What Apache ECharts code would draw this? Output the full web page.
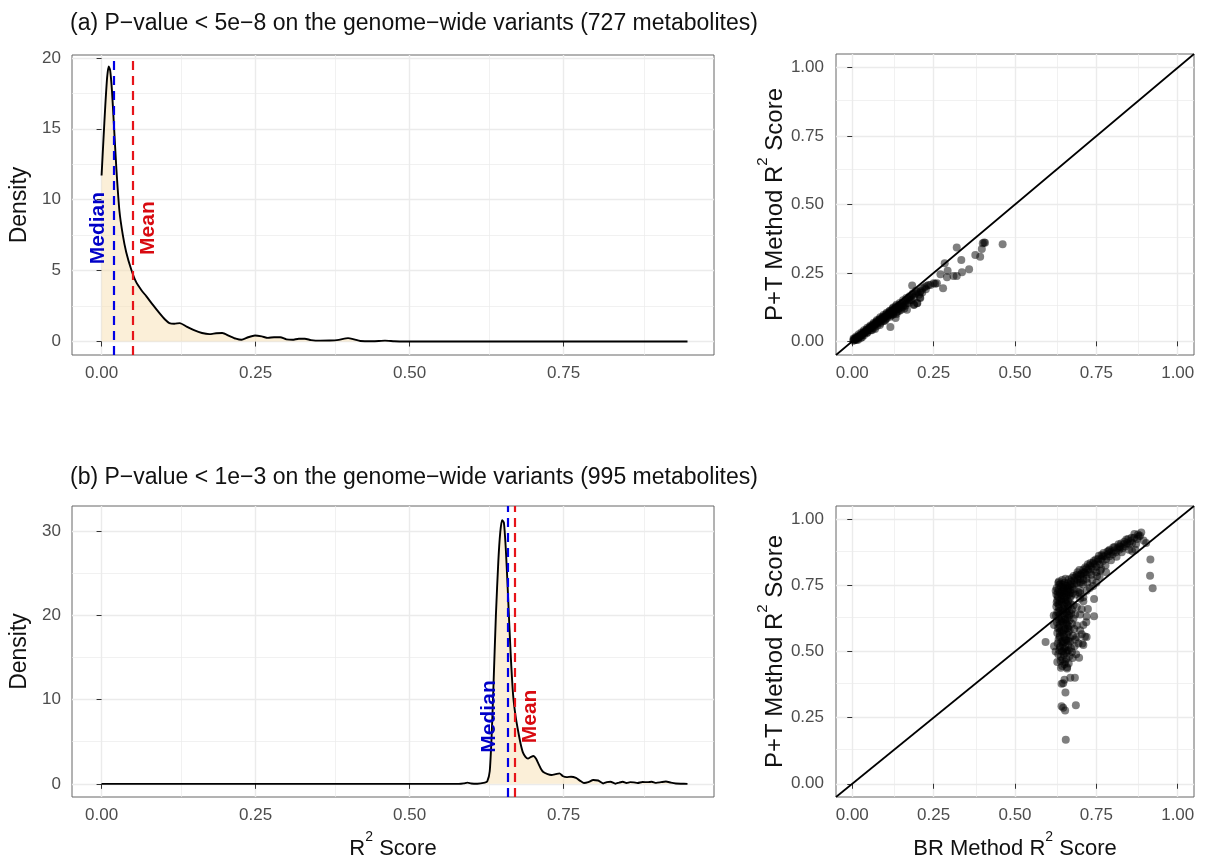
<!DOCTYPE html>
<html><head><meta charset="utf-8">
<script src="https://cdn.jsdelivr.net/npm/echarts@6/dist/echarts.min.js"></script>
<style>html,body{margin:0;padding:0;background:#fff}#c{width:1205px;height:861px}</style>
</head><body><div id="c"></div>
<script>
// ---------------- DATA ----------------
const titleA = '(a) P\u2212value < 5e\u22128 on the genome\u2212wide variants (727 metabolites)';
const titleB = '(b) P\u2212value < 1e\u22123 on the genome\u2212wide variants (995 metabolites)';

// Density curve of R2 scores, panel (a): [R2, density]
const densityA = [
 [0.000,11.7],[0.003,14.2],[0.006,16.6],[0.009,18.6],[0.0115,19.4],[0.014,19.1],[0.017,17.6],
 [0.020,15.3],[0.024,12.2],[0.029,9.2],[0.0345,7.5],[0.040,6.3],[0.048,5.1],[0.056,4.2],
 [0.065,3.6],[0.0725,3.2],[0.083,2.6],[0.094,2.0],[0.103,1.55],[0.110,1.3],[0.118,1.25],
 [0.127,1.3],[0.138,1.05],[0.150,0.8],[0.163,0.6],[0.175,0.52],[0.186,0.58],[0.196,0.6],
 [0.207,0.4],[0.218,0.2],[0.227,0.12],[0.238,0.3],[0.249,0.42],[0.260,0.36],[0.270,0.26],
 [0.280,0.3],[0.290,0.3],[0.300,0.15],[0.310,0.12],[0.320,0.2],[0.330,0.2],[0.340,0.1],
 [0.355,0.06],[0.370,0.07],[0.385,0.12],[0.400,0.24],[0.410,0.15],[0.420,0.04],[0.440,0.02],
 [0.460,0.06],[0.475,0.02],[0.490,0.0],[0.600,0.0],[0.800,0.0],[0.951,0.0]
];
// Density curve of R2 scores, panel (b)
const densityB = [
 [0.000,0.0],[0.580,0.0],[0.588,0.06],[0.594,0.15],[0.600,0.05],[0.610,0.02],[0.622,0.15],
 [0.626,0.3],[0.630,1.5],[0.633,5.5],[0.636,11.5],[0.640,20.0],[0.644,26.5],[0.647,29.8],
 [0.650,31.3],[0.653,31.0],[0.656,28.0],[0.659,23.5],[0.662,18.5],[0.665,14.0],[0.668,10.5],
 [0.672,8.0],[0.676,6.3],[0.680,4.8],[0.684,3.7],[0.688,3.2],[0.692,3.0],[0.697,3.2],
 [0.701,3.3],[0.705,3.0],[0.709,2.4],[0.713,1.8],[0.717,1.4],[0.724,1.15],[0.730,1.05],
 [0.737,1.15],[0.743,1.25],[0.749,0.9],[0.755,0.8],[0.762,0.85],[0.770,0.7],[0.777,0.35],
 [0.783,0.1],[0.790,0.2],[0.798,0.45],[0.806,0.4],[0.814,0.05],[0.820,0.2],[0.826,0.25],
 [0.834,0.02],[0.840,0.15],[0.846,0.25],[0.852,0.1],[0.858,0.2],[0.864,0.18],[0.870,0.1],
 [0.878,0.22],[0.886,0.2],[0.893,0.25],[0.900,0.12],[0.908,0.2],[0.916,0.28],[0.924,0.15],
 [0.932,0.05],[0.940,0.02],[0.951,0.0]
];
const statsA = { median: 0.022, mean: 0.050 };
const statsB = { median: 0.657, mean: 0.670 };
const statLabelY = 8;

// Scatter (a): [BR R2, P+T R2]
const scatterA = [
 [0.003,0.002],[0.006,0.004],[0.008,0.008],[0.010,0.006],[0.012,0.010],[0.005,0.008],[0.015,0.012],
 [0.018,0.014],[0.020,0.018],[0.022,0.016],[0.014,0.006],[0.025,0.020],[0.028,0.024],[0.030,0.022],
 [0.032,0.028],[0.035,0.030],[0.038,0.032],[0.040,0.036],[0.042,0.034],[0.045,0.040],[0.048,0.042],
 [0.050,0.045],[0.052,0.040],[0.055,0.050],[0.058,0.052],[0.060,0.055],[0.062,0.050],[0.065,0.060],
 [0.068,0.058],[0.070,0.065],[0.072,0.062],[0.075,0.070],[0.078,0.068],[0.080,0.075],[0.082,0.070],
 [0.085,0.078],[0.088,0.080],[0.090,0.072],[0.092,0.085],[0.095,0.082],[0.098,0.090],[0.100,0.088],
 [0.102,0.080],[0.105,0.095],[0.108,0.092],[0.110,0.100],[0.112,0.095],[0.115,0.105],[0.118,0.100],
 [0.120,0.110],[0.122,0.105],[0.125,0.115],[0.128,0.110],[0.130,0.120],[0.133,0.115],[0.135,0.105],
 [0.138,0.125],[0.140,0.118],[0.143,0.130],[0.145,0.122],[0.148,0.135],[0.150,0.128],[0.155,0.140],
 [0.158,0.132],[0.160,0.145],[0.165,0.150],[0.168,0.140],[0.170,0.155],[0.175,0.160],[0.178,0.150],
 [0.180,0.165],[0.185,0.170],[0.190,0.160],[0.195,0.175],[0.200,0.180],[0.205,0.170],[0.210,0.185],
 [0.215,0.178],[0.208,0.160],[0.200,0.140],[0.190,0.135],[0.168,0.115],[0.163,0.130],[0.133,0.085],
 [0.117,0.052],[0.070,0.045],[0.085,0.060],[0.100,0.075],[0.060,0.040],[0.045,0.030],[0.030,0.015],
 [0.120,0.095],[0.125,0.100],[0.140,0.110],[0.145,0.112],[0.155,0.125],[0.160,0.120],[0.184,0.204],
 [0.216,0.194],[0.209,0.179],[0.209,0.158],[0.199,0.139],[0.189,0.133],[0.240,0.206],[0.250,0.212],
 [0.260,0.212],[0.255,0.210],[0.271,0.245],[0.279,0.194],[0.284,0.285],[0.293,0.258],[0.291,0.234],
 [0.311,0.239],[0.321,0.239],[0.321,0.343],[0.335,0.297],[0.337,0.252],[0.359,0.263],[0.378,0.315],
 [0.393,0.309],[0.398,0.337],[0.401,0.358],[0.405,0.361],[0.408,0.360],[0.462,0.355],
 [0.010,0.012],[0.016,0.016],[0.024,0.022],[0.034,0.033],[0.044,0.043],[0.054,0.053],[0.064,0.062],
 [0.074,0.072],[0.084,0.082],[0.094,0.090],[0.104,0.100],[0.114,0.110],[0.124,0.120],[0.134,0.128],
 [0.004,0.010],[0.012,0.018],[0.020,0.026],[0.028,0.032],[0.036,0.040],[0.046,0.050],[0.056,0.058],
 [0.066,0.068],[0.076,0.078],[0.086,0.088],[0.096,0.096],[0.106,0.104],[0.116,0.112],[0.126,0.124],
 [0.136,0.134],[0.146,0.140],[0.156,0.150],[0.166,0.158],[0.176,0.165],[0.186,0.175],[0.196,0.185],
 [0.018,0.006],[0.026,0.012],[0.036,0.022],[0.046,0.032],[0.056,0.040],[0.066,0.048],[0.076,0.056],
 [0.086,0.066],[0.096,0.074],[0.106,0.084],[0.116,0.090],[0.126,0.098],[0.136,0.100],[0.150,0.115],
 [0.175,0.140],[0.182,0.150],[0.222,0.198],[0.228,0.202],[0.234,0.206],[0.226,0.190]
];

// Scatter (b): [BR R2, P+T R2]
const scatterB = [
 [0.635,0.765],[0.645,0.770],[0.655,0.775],[0.665,0.772],[0.675,0.778],[0.685,0.780],[0.695,0.785],
 [0.640,0.755],[0.652,0.760],[0.662,0.758],[0.672,0.765],[0.682,0.768],[0.692,0.772],[0.702,0.790],
 [0.628,0.740],[0.634,0.735],[0.641,0.745],[0.648,0.738],[0.655,0.748],[0.662,0.742],[0.669,0.750],
 [0.676,0.745],[0.683,0.752],[0.690,0.758],[0.698,0.760],[0.632,0.725],[0.645,0.728],[0.658,0.730],
 [0.670,0.732],[0.680,0.735],[0.625,0.730],
 [0.627,0.715],[0.633,0.705],[0.639,0.718],[0.646,0.710],[0.652,0.720],[0.659,0.705],[0.665,0.715],
 [0.672,0.710],[0.678,0.720],[0.686,0.715],[0.694,0.725],[0.642,0.698],[0.655,0.695],[0.668,0.700],
 [0.630,0.695],[0.700,0.700],[0.710,0.690],
 [0.628,0.685],[0.636,0.678],[0.643,0.688],[0.650,0.675],[0.657,0.685],[0.664,0.672],[0.671,0.680],
 [0.680,0.675],[0.690,0.668],[0.635,0.665],[0.648,0.660],[0.660,0.662],[0.675,0.658],[0.627,0.670],
 [0.630,0.648],[0.638,0.640],[0.645,0.652],[0.652,0.638],[0.659,0.648],[0.666,0.635],[0.673,0.645],
 [0.685,0.640],[0.700,0.640],[0.633,0.628],[0.643,0.625],[0.656,0.622],[0.668,0.618],[0.680,0.625],
 [0.626,0.635],[0.720,0.632],[0.705,0.660],
 [0.629,0.610],[0.637,0.600],[0.644,0.612],[0.651,0.598],[0.658,0.608],[0.665,0.595],[0.675,0.605],
 [0.690,0.598],[0.632,0.588],[0.642,0.582],[0.655,0.585],[0.668,0.580],[0.682,0.585],[0.710,0.600],
 [0.700,0.580],
 [0.630,0.570],[0.638,0.560],[0.645,0.572],[0.652,0.555],[0.660,0.565],[0.668,0.552],[0.678,0.560],
 [0.690,0.555],[0.720,0.555],[0.634,0.545],[0.646,0.540],[0.658,0.542],[0.670,0.538],[0.685,0.545],
 [0.705,0.565],
 [0.631,0.530],[0.639,0.520],[0.647,0.528],[0.655,0.515],[0.663,0.525],[0.672,0.512],[0.683,0.520],
 [0.695,0.530],[0.710,0.525],[0.636,0.505],[0.648,0.500],[0.660,0.502],[0.675,0.498],
 [0.633,0.490],[0.641,0.480],[0.650,0.488],[0.658,0.472],[0.667,0.482],[0.677,0.475],[0.688,0.490],
 [0.697,0.476],[0.640,0.465],[0.654,0.460],[0.665,0.455],[0.645,0.445],[0.660,0.440],[0.641,0.439],
 [0.660,0.436],
 [0.636,0.752],[0.650,0.742],[0.664,0.736],[0.638,0.722],[0.651,0.728],[0.662,0.725],[0.637,0.692],
 [0.651,0.700],[0.663,0.690],[0.639,0.655],[0.653,0.660],[0.667,0.652],[0.640,0.615],[0.654,0.620],
 [0.662,0.628],[0.638,0.575],[0.650,0.580],[0.664,0.575],[0.642,0.535],[0.656,0.545],[0.644,0.500],
 [0.657,0.495],
 [0.633,0.760],[0.647,0.752],[0.660,0.748],[0.674,0.755],[0.631,0.710],[0.644,0.716],[0.657,0.712],
 [0.670,0.722],[0.633,0.680],[0.646,0.684],[0.660,0.678],[0.634,0.650],[0.647,0.645],[0.661,0.640],
 [0.635,0.620],[0.648,0.610],[0.660,0.602],[0.636,0.590],[0.649,0.565],[0.662,0.588],[0.637,0.555],
 [0.650,0.535],[0.664,0.540],[0.638,0.515],[0.651,0.510],[0.665,0.505],[0.646,0.470],[0.652,0.452],
 [0.700,0.775],[0.705,0.795],[0.710,0.785],[0.715,0.800],[0.720,0.790],[0.725,0.810],[0.730,0.800],
 [0.735,0.820],[0.740,0.810],[0.745,0.830],[0.750,0.820],[0.755,0.840],[0.760,0.830],[0.765,0.850],
 [0.770,0.842],[0.775,0.860],[0.780,0.850],[0.785,0.868],[0.790,0.860],[0.795,0.875],[0.800,0.868],
 [0.805,0.882],[0.810,0.875],[0.815,0.890],[0.820,0.885],[0.825,0.895],[0.830,0.890],[0.835,0.905],
 [0.840,0.898],[0.845,0.910],[0.850,0.905],[0.855,0.918],[0.860,0.910],[0.867,0.944],[0.872,0.906],
 [0.888,0.950],[0.880,0.935],[0.875,0.925],[0.842,0.923],[0.821,0.898],[0.791,0.885],[0.850,0.885],
 [0.903,0.910],[0.895,0.920],[0.860,0.880],[0.870,0.885],[0.710,0.810],[0.720,0.815],[0.730,0.825],
 [0.740,0.835],[0.755,0.850],[0.770,0.860],[0.690,0.790],[0.680,0.785],[0.710,0.770],[0.720,0.775],
 [0.735,0.790],[0.750,0.800],[0.765,0.812],
 [0.700,0.730],[0.702,0.760],[0.712,0.800],[0.722,0.760],[0.724,0.830],[0.738,0.770],[0.742,0.842],
 [0.752,0.785],[0.758,0.862],[0.762,0.805],[0.772,0.872],[0.778,0.825],[0.788,0.880],[0.795,0.845],
 [0.802,0.893],[0.812,0.858],[0.818,0.905],[0.828,0.875],[0.836,0.915],[0.848,0.925],[0.858,0.930],
 [0.866,0.930],[0.878,0.942],[0.884,0.938],[0.692,0.800],[0.698,0.808],[0.716,0.818],[0.732,0.835],
 [0.748,0.848],[0.766,0.865],[0.784,0.878],[0.806,0.895],[0.826,0.908],
 [0.740,0.748],[0.760,0.783],[0.709,0.754],[0.743,0.698],[0.724,0.661],[0.743,0.633],[0.719,0.611],
 [0.715,0.557],[0.707,0.530],[0.730,0.740],[0.720,0.730],[0.750,0.760],[0.780,0.800],[0.700,0.720],
 [0.710,0.705],
 [0.594,0.536],[0.916,0.848],[0.915,0.786],[0.923,0.739],[0.656,0.166],[0.643,0.293],[0.648,0.287],
 [0.654,0.277],[0.687,0.297],[0.655,0.345],[0.643,0.378],[0.652,0.393],[0.670,0.401],[0.684,0.401],
 [0.648,0.380],[0.630,0.460],[0.625,0.500],[0.620,0.520],[0.620,0.600],[0.619,0.636]
];

// Axis ticks
const densityXTicks = [0, 0.25, 0.5, 0.75];
const densityXMinor = [0.125, 0.375, 0.625, 0.875];
const densityAYTicks = [0, 5, 10, 15, 20];
const densityAYMinor = [2.5, 7.5, 12.5, 17.5];
const densityBYTicks = [0, 10, 20, 30];
const densityBYMinor = [5, 15, 25];
const scatterTicks = [0, 0.25, 0.5, 0.75, 1];
const scatterMinor = [0.125, 0.375, 0.625, 0.875];
const diagonal = [[-0.05, -0.05], [1.05, 1.05]];

// ---------------- CHART ----------------
const FONT = '"Liberation Sans", Arial, Helvetica, sans-serif';
const chart = echarts.init(document.getElementById('c'), null, { renderer: 'canvas' });

const grids = [
  { left: 72, top: 55, width: 642, height: 300 },
  { left: 836, top: 54, width: 358, height: 301 },
  { left: 72, top: 506, width: 642, height: 294 },
  { left: 836, top: 506, width: 358, height: 294 }
].map(g => Object.assign(g, { show: true, borderColor: '#666', borderWidth: 1, backgroundColor: 'transparent', containLabel: false }));

const supRichX = {
  a: { fontSize: 22, fontFamily: FONT, color: '#111', lineHeight: 30, verticalAlign: 'bottom' },
  s: { fontSize: 14, fontFamily: FONT, color: '#111', lineHeight: 12, verticalAlign: 'top' }
};
const supRichY = {
  a: { fontSize: 24, fontFamily: FONT, color: '#111', lineHeight: 32, verticalAlign: 'bottom' },
  s: { fontSize: 15, fontFamily: FONT, color: '#111', lineHeight: 13, verticalAlign: 'top' }
};

function axis(gi, min, max, ticks, fmt, margin, extra) {
  return Object.assign({
    type: 'value', gridIndex: gi, min: min, max: max,
    axisLine: { show: false },
    splitLine: { show: false },
    axisTick: { show: true, customValues: ticks, length: 5, lineStyle: { color: '#333', width: 1 } },
    axisLabel: { customValues: ticks, formatter: fmt, color: '#4d4d4d', fontSize: 17, fontFamily: FONT, margin: margin }
  }, extra || {});
}
const f2 = v => Number(v).toFixed(2);
const f0 = v => String(Math.round(v));

const xAxes = [
  axis(0, -0.048, 0.994, densityXTicks, f2, 10),
  axis(1, -0.05, 1.05, scatterTicks, f2, 10),
  axis(2, -0.048, 0.994, densityXTicks, f2, 10, {
    name: '{a|R}{s|2}{a| Score}', nameLocation: 'middle', nameGap: 33,
    nameTextStyle: { rich: supRichX } }),
  axis(3, -0.05, 1.05, scatterTicks, f2, 10, {
    name: '{a|BR Method R}{s|2}{a| Score}', nameLocation: 'middle', nameGap: 33,
    nameTextStyle: { rich: supRichX } })
];
const yAxes = [
  axis(0, -0.95, 20.2, densityAYTicks, f0, 11, {
    name: 'Density', nameLocation: 'middle', nameGap: 36,
    nameTextStyle: { fontSize: 23, fontFamily: FONT, color: '#111' } }),
  axis(1, -0.05, 1.05, scatterTicks, f2, 12, {
    name: '{a|P+T Method R}{s|2}{a| Score}', nameLocation: 'middle', nameGap: 47,
    nameTextStyle: { rich: supRichY } }),
  axis(2, -1.56, 32.98, densityBYTicks, f0, 11, {
    name: 'Density', nameLocation: 'middle', nameGap: 36,
    nameTextStyle: { fontSize: 23, fontFamily: FONT, color: '#111' } }),
  axis(3, -0.05, 1.05, scatterTicks, f2, 12, {
    name: '{a|P+T Method R}{s|2}{a| Score}', nameLocation: 'middle', nameGap: 47,
    nameTextStyle: { rich: supRichY } })
];

function gridLines(gi, xMaj, xMin, yMaj, yMin) {
  const d = [];
  xMin.forEach(v => d.push({ xAxis: v, lineStyle: { width: 0.7 } }));
  yMin.forEach(v => d.push({ yAxis: v, lineStyle: { width: 0.7 } }));
  xMaj.forEach(v => d.push({ xAxis: v, lineStyle: { width: 1.4 } }));
  yMaj.forEach(v => d.push({ yAxis: v, lineStyle: { width: 1.4 } }));
  return {
    type: 'line', xAxisIndex: gi, yAxisIndex: gi, data: [], z: 0, silent: true,
    markLine: { z: 0, silent: true, symbol: ['none', 'none'], animation: false, label: { show: false },
      lineStyle: { color: '#ebebeb', type: 'solid' }, data: d }
  };
}

function density(gi, data, stats) {
  return [{
    type: 'line', xAxisIndex: gi, yAxisIndex: gi, data: data, showSymbol: false, smooth: 0.2,
    z: 2, silent: true,
    lineStyle: { color: '#000', width: 1.9 },
    areaStyle: { color: 'rgba(246,222,176,0.7)', origin: 0 },
    markLine: { z: 3, silent: true, symbol: ['none', 'none'], animation: false, label: { show: false },
      data: [
        { xAxis: stats.median, lineStyle: { color: '#0000e6', type: [9, 6], width: 2.2 } },
        { xAxis: stats.mean, lineStyle: { color: '#e6141a', type: [9, 6], width: 2.2 } }
      ] }
  }, {
    type: 'scatter', xAxisIndex: gi, yAxisIndex: gi, symbolSize: 0, silent: true, z: 5,
    itemStyle: { color: 'transparent', opacity: 1 },
    data: [
      { value: [stats.median - 0.028, statLabelY], label: { formatter: 'Median', color: '#0000c8' } },
      { value: [stats.mean + 0.026, statLabelY], label: { formatter: 'Mean', color: '#d80a10' } }
    ],
    label: { show: true, position: 'inside', rotate: 90, fontSize: 21, fontWeight: 'bold', fontFamily: FONT,
      opacity: 1, textBorderWidth: 0, textBorderColor: 'transparent', textShadowBlur: 0 }
  }];
}

function scatter(gi, data) {
  return [{
    type: 'line', xAxisIndex: gi, yAxisIndex: gi, data: diagonal, showSymbol: false, silent: true, z: 3,
    lineStyle: { color: '#000', width: 1.7 }
  }, {
    type: 'scatter', xAxisIndex: gi, yAxisIndex: gi, data: data, symbolSize: 8, silent: true, z: 4,
    itemStyle: { color: '#000', opacity: 0.5 }
  }];
}

const option = {
  backgroundColor: '#fff',
  animation: false,
  textStyle: { fontFamily: FONT },
  title: [
    { text: titleA, left: 65, top: 7, textStyle: { fontSize: 23, fontWeight: 'normal', color: '#111', fontFamily: FONT } },
    { text: titleB, left: 65, top: 461, textStyle: { fontSize: 23, fontWeight: 'normal', color: '#111', fontFamily: FONT } }
  ],
  grid: grids,
  xAxis: xAxes,
  yAxis: yAxes,
  series: [
    gridLines(0, densityXTicks, densityXMinor, densityAYTicks, densityAYMinor),
    gridLines(1, scatterTicks, scatterMinor, scatterTicks, scatterMinor),
    gridLines(2, densityXTicks, densityXMinor, densityBYTicks, densityBYMinor),
    gridLines(3, scatterTicks, scatterMinor, scatterTicks, scatterMinor),
    ...density(0, densityA, statsA),
    ...density(2, densityB, statsB),
    ...scatter(1, scatterA),
    ...scatter(3, scatterB)
  ]
};
chart.setOption(option);
</script>
</body></html>
